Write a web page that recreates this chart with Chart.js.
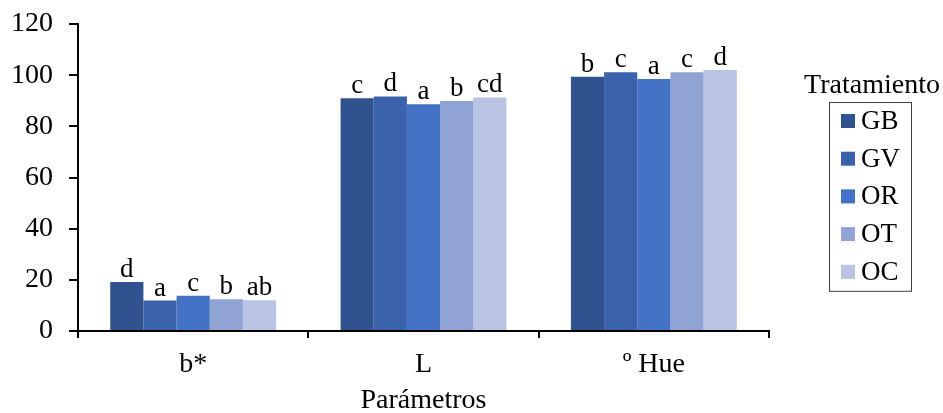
<!DOCTYPE html>
<html>
<head>
<meta charset="utf-8">
<script src="https://cdn.jsdelivr.net/npm/chart.js@4"></script>
<style>
    html, body { margin: 0; padding: 0; background: #fff; }
    #wrap { width: 943px; height: 413px; }
</style>
</head>
<body>
<div id="wrap"><canvas id="colorChart"></canvas></div>
<script>
const categories = ['b*', 'L', 'º Hue'];
const treatments = ['GB', 'GV', 'OR', 'OT', 'OC'];
const colors = ['#30538F', '#3B63AC', '#4472C4', '#8FA3D4', '#B9C3E3'];

// mean values per treatment, one entry per parameter
const gbValues = [19.2, 91.0, 99.4];
const gvValues = [11.9, 91.7, 101.1];
const orValues = [13.8, 88.6, 98.5];
const otValues = [12.4, 89.9, 101.1];
const ocValues = [12.0, 91.3, 102.0];

// significance letters over each bar
const gbLetters = ['d', 'c', 'b'];
const gvLetters = ['a', 'd', 'c'];
const orLetters = ['c', 'a', 'a'];
const otLetters = ['b', 'b', 'c'];
const ocLetters = ['ab', 'cd', 'd'];

const yTicks = [0, 20, 40, 60, 80, 100, 120];

const FONT = '"Liberation Serif", "Times New Roman", serif';

const seriesValues = [gbValues, gvValues, orValues, otValues, ocValues];
const seriesLetters = [gbLetters, gvLetters, orLetters, otLetters, ocLetters];

// letters drawn just above every bar
const letterPlugin = {
    id: 'letters',
    afterDatasetsDraw(chart) {
        const ctx = chart.ctx;
        ctx.save();
        ctx.font = '27px ' + FONT;
        ctx.fillStyle = '#000';
        ctx.textAlign = 'center';
        ctx.textBaseline = 'alphabetic';
        chart.data.datasets.forEach((ds, i) => {
            const meta = chart.getDatasetMeta(i);
            meta.data.forEach((bar, j) => {
                ctx.fillText(ds.letters[j], bar.x, bar.y - 5);
            });
        });
        ctx.restore();
    }
};

// boxed legend with the title above it, to the right of the plot
const boxLegendPlugin = {
    id: 'boxLegend',
    afterDraw(chart) {
        const ctx = chart.ctx;
        const left = chart.chartArea.right + 60;
        const top = 102;
        const rowH = 37.7;
        const boxW = 82;
        const n = chart.data.datasets.length;
        ctx.save();
        ctx.fillStyle = '#000';
        ctx.font = '28px ' + FONT;
        ctx.textAlign = 'center';
        ctx.textBaseline = 'middle';
        ctx.fillText('Tratamiento', left + 43, 86);

        ctx.strokeStyle = '#404040';
        ctx.lineWidth = 1;
        ctx.strokeRect(left + 0.5, top + 0.5, boxW, rowH * (n - 1) + 38);

        ctx.font = '27px ' + FONT;
        ctx.textAlign = 'left';
        chart.data.datasets.forEach((ds, i) => {
            const cy = top + 19 + i * rowH;
            ctx.fillStyle = ds.backgroundColor;
            ctx.fillRect(left + 12, cy - 7, 14, 14);
            ctx.fillStyle = '#000';
            ctx.fillText(ds.label, left + 32, cy + 1);
        });
        ctx.restore();
    }
};

new Chart(document.getElementById('colorChart'), {
    type: 'bar',
    data: {
        labels: categories,
        datasets: treatments.map((t, i) => ({
            label: t,
            data: seriesValues[i],
            letters: seriesLetters[i],
            backgroundColor: colors[i],
            borderWidth: 0,
            categoryPercentage: 0.72,
            barPercentage: 1.0
        }))
    },
    options: {
        responsive: true,
        maintainAspectRatio: false,
        animation: false,
        layout: {
            padding: { left: 0, right: 174, top: 24, bottom: 0 }
        },
        plugins: {
            legend: { display: false },
            tooltip: { enabled: false }
        },
        scales: {
            x: {
                border: { color: '#000', width: 2 },
                grid: {
                    offset: true,
                    drawOnChartArea: false,
                    color: '#000',
                    lineWidth: 2,
                    tickLength: 7
                },
                afterFit: (scale) => { scale.height = 82; },
                ticks: {
                    color: '#000',
                    padding: 10,
                    font: { family: FONT, size: 28 }
                },
                title: {
                    display: true,
                    text: 'Parámetros',
                    color: '#000',
                    font: { family: FONT, size: 28, lineHeight: 1 },
                    padding: { top: 6, bottom: -2 }
                }
            },
            y: {
                min: 0,
                max: 120,
                border: { color: '#000', width: 2 },
                grid: {
                    drawOnChartArea: false,
                    color: '#000',
                    lineWidth: 2,
                    tickLength: 9
                },
                afterBuildTicks: (scale) => {
                    scale.ticks = yTicks.map(v => ({ value: v }));
                },
                afterFit: (scale) => {
                    scale.width = 78;
                    scale.paddingTop = 0;
                    scale.paddingBottom = 0;
                },
                ticks: {
                    color: '#000',
                    padding: 16,
                    font: { family: FONT, size: 28 }
                }
            }
        }
    },
    plugins: [letterPlugin, boxLegendPlugin]
});
</script>
</body>
</html>
